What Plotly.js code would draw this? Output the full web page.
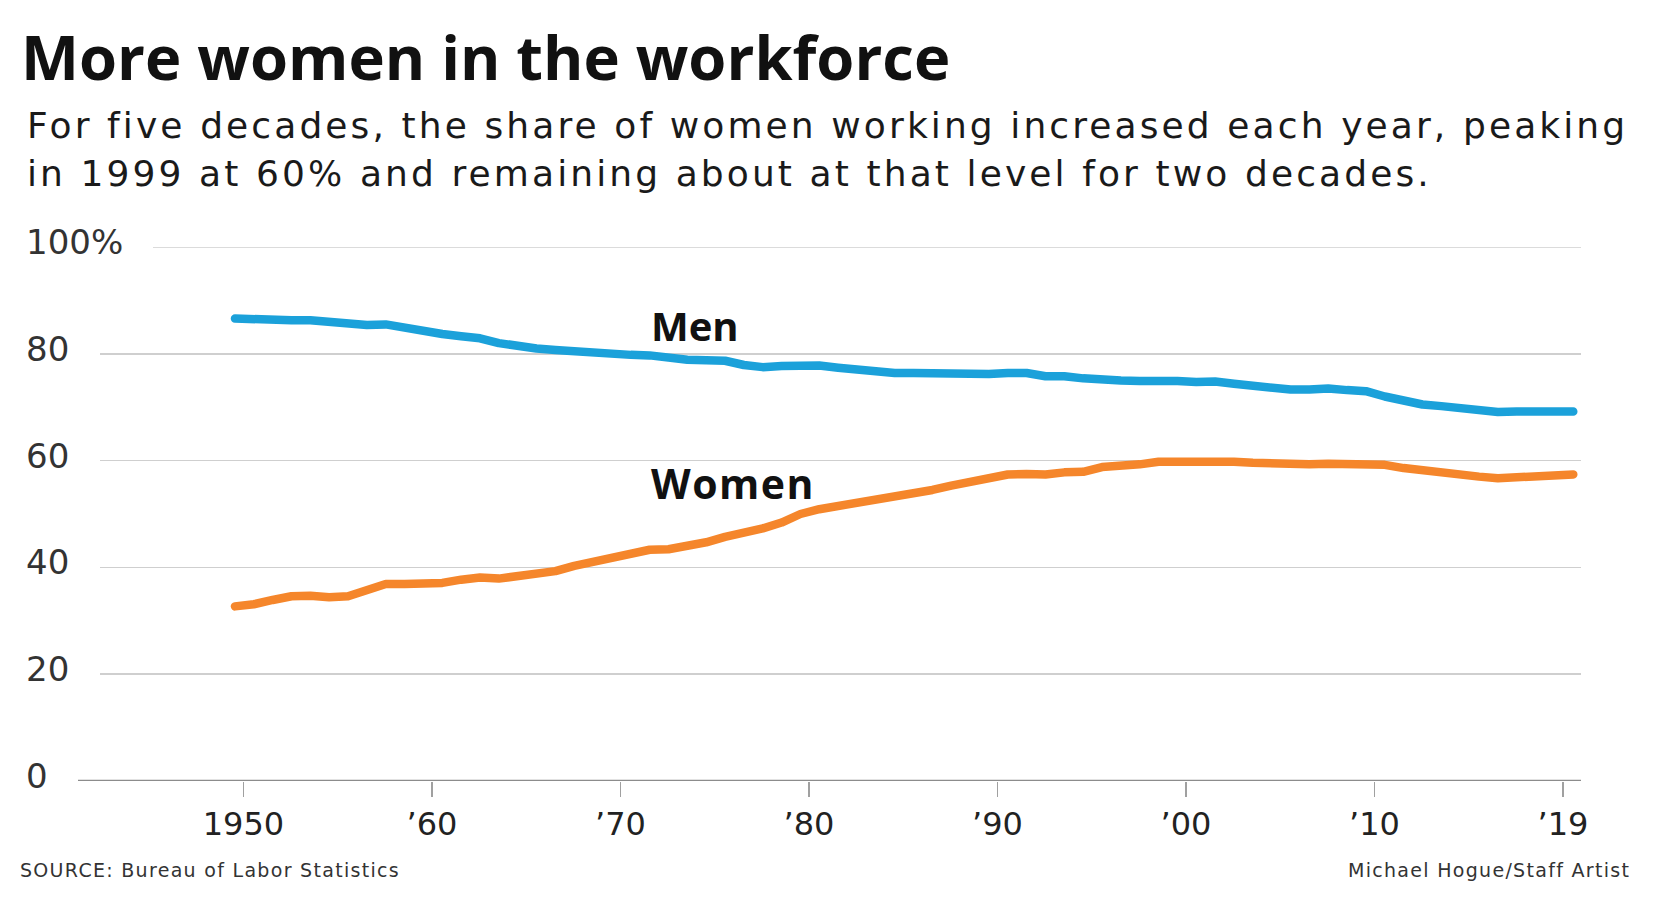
<!DOCTYPE html>
<html>
<head>
<meta charset="utf-8">
<script src="https://cdn.plot.ly/plotly-3.0.1.min.js"></script>
<style>
  html, body { margin: 0; padding: 0; background: #ffffff; }
  #chart { width: 1660px; height: 912px; }
  #chart .scatterlayer path.js-line { stroke-linecap: round; stroke-linejoin: round; }
</style>
</head>
<body>
<div id="chart"></div>
<script>
// ---------------- DATA ----------------
const years = [1948,1949,1950,1951,1952,1953,1954,1955,1956,1957,
               1958,1959,1960,1961,1962,1963,1964,1965,1966,1967,
               1968,1969,1970,1971,1972,1973,1974,1975,1976,1977,
               1978,1979,1980,1981,1982,1983,1984,1985,1986,1987,
               1988,1989,1990,1991,1992,1993,1994,1995,1996,1997,
               1998,1999,2000,2001,2002,2003,2004,2005,2006,2007,
               2008,2009,2010,2011,2012,2013,2014,2015,2016,2017,
               2018,2019];
const men = [86.6,86.4,86.4,86.3,86.3,86.0,85.5,85.4,85.5,84.8,
             84.2,83.7,83.3,82.9,82.0,81.4,81.0,80.7,80.4,80.4,
             80.1,79.8,79.7,79.1,78.9,78.8,78.7,77.9,77.5,77.7,
             77.9,77.8,77.4,77.0,76.6,76.4,76.4,76.3,76.3,76.2,
             76.2,76.4,76.4,75.8,75.8,75.4,75.1,75.0,74.9,75.0,
             74.9,74.7,74.8,74.4,74.1,73.5,73.3,73.3,73.5,73.2,
             73.0,72.0,71.2,70.5,70.2,69.7,69.2,69.1,69.2,69.1,
             69.1,69.2];
const women = [32.7,33.1,33.9,34.6,34.7,34.4,34.6,35.7,36.9,36.9,
               37.1,37.1,37.7,38.1,37.9,38.3,38.7,39.3,40.3,41.1,
               41.6,42.7,43.3,43.4,43.9,44.7,45.7,46.3,47.3,48.4,
               50.0,50.9,51.5,52.1,52.6,52.9,53.6,54.5,55.3,56.0,
               56.6,57.4,57.5,57.4,57.8,57.9,58.8,58.9,59.3,59.8,
               59.8,60.0,59.9,59.8,59.6,59.5,59.2,59.3,59.4,59.3,
               59.5,59.2,58.6,58.1,57.7,57.2,57.0,56.7,56.8,57.0,
               57.1,57.4];
const seriesNames = ["Men", "Women"];
const xTickYears = [1950, 1960, 1970, 1980, 1990, 2000, 2010, 2020];
const xTickText = ["1950", "\u201960", "\u201970", "\u201980", "\u201990", "\u201900", "\u201910", "\u201919"];
const yTickVals = [0, 20, 40, 60, 80, 100];
const yTickText = ["0", "20", "40", "60", "80", "100%"];

const titleText = "More women in the workforce";
const subtitleLines = [
  "For five decades, the share of women working increased each year, peaking",
  "in 1999 at 60% and remaining about at that level for two decades."
];
const sourceText = "SOURCE: Bureau of Labor Statistics";
const creditText = "Michael Hogue/Staff Artist";

// ---------------- LAYOUT HELPERS ----------------
const W = 1660, H = 912;
const M = { l: 100, r: 79, t: 247, b: 131 };
const plotW = W - M.l - M.r, plotH = H - M.t - M.b;
const px2x = px => (px - M.l) / plotW;           // pixel -> paper x
const py2y = py => (H - M.b - py) / plotH;       // pixel -> paper y
const spaced = (s, ls) => '<span style="letter-spacing:' + ls + 'px">' + s + '</span>';

// the graphic's tick marks sit slightly left of the plotted years
const tickShift = -1.55;
const xTickVals = xTickYears.map(y => y + tickShift);

const BODY = "DejaVu Sans";
const BOLD = "Open Sans";
const COL_MEN = "#1ba1da";
const COL_WOMEN = "#f5862b";

const traces = [
  { x: years, y: men, name: seriesNames[0], type: "scatter", mode: "lines",
    line: { color: COL_MEN, width: 8.5, shape: "linear" }, hoverinfo: "skip" },
  { x: years, y: women, name: seriesNames[1], type: "scatter", mode: "lines",
    line: { color: COL_WOMEN, width: 8.5, shape: "linear" }, hoverinfo: "skip" }
];

const annotations = [];
function addText(text, pxX, pyC, font, xanchor) {
  annotations.push({
    text: text, xref: "paper", yref: "paper",
    x: px2x(pxX), y: py2y(pyC), xanchor: xanchor || "left", yanchor: "middle",
    showarrow: false, font: font, borderpad: 0
  });
}
addText(titleText, 20, 56, { family: BOLD, size: 61.5, color: "#111111", weight: 700 });
addText(spaced(subtitleLines[0], 3.1), 26, 125, { family: BODY, size: 36, color: "#1a1a1a" });
addText(spaced(subtitleLines[1], 3.1), 26, 173, { family: BODY, size: 36, color: "#1a1a1a" });
addText(seriesNames[0], 650, 325, { family: BOLD, size: 40, color: "#111111", weight: 700 });
addText(spaced(seriesNames[1], 1.5), 650, 483, { family: BOLD, size: 41, color: "#111111", weight: 700 });
addText(spaced(sourceText, 1.3), 19, 870, { family: BODY, size: 19, color: "#333333" });
addText(spaced(creditText, 1.3), 1631, 870, { family: BODY, size: 19, color: "#333333" }, "right");

// y tick labels: left-aligned, sitting just above their gridlines
yTickVals.forEach((v, i) => {
  annotations.push({
    text: yTickText[i], xref: "paper", yref: "y",
    x: px2x(25), y: v, yshift: 5, xanchor: "left", yanchor: "middle",
    showarrow: false, borderpad: 0,
    font: { family: BODY, size: 34, color: "#333333" }
  });
});

const shapes = [
  // top (100%) gridline starts right of its wider label
  { type: "line", xref: "paper", yref: "y", x0: px2x(153), x1: 1, y0: 100, y1: 100,
    line: { color: "#cfcfcf", width: 1.5 } },
  // baseline
  { type: "line", xref: "paper", yref: "y", x0: px2x(78), x1: 1, y0: 0, y1: 0,
    line: { color: "#8c8c8c", width: 2.5 } }
];

const layout = {
  width: W, height: H,
  margin: M,
  paper_bgcolor: "#ffffff", plot_bgcolor: "#ffffff",
  showlegend: false,
  xaxis: {
    range: [1940.84, 2019.41],
    tickmode: "array", tickvals: xTickVals, ticktext: xTickText,
    ticks: "outside", ticklen: 15, tickwidth: 1.5, tickcolor: "#a0a0a0",
    tickfont: { family: BODY, size: 32, color: "#222222" },
    showgrid: false, zeroline: false, showline: false,
    fixedrange: true
  },
  yaxis: {
    range: [0, 100],
    tickmode: "array", tickvals: [20, 40, 60, 80],
    showticklabels: false, ticks: "",
    showgrid: true, gridcolor: "#cfcfcf", gridwidth: 1.5,
    zeroline: false, showline: false, fixedrange: true
  },
  shapes: shapes,
  annotations: annotations
};

Plotly.newPlot("chart", traces, layout, { displayModeBar: false, staticPlot: true });
</script>
</body>
</html>
